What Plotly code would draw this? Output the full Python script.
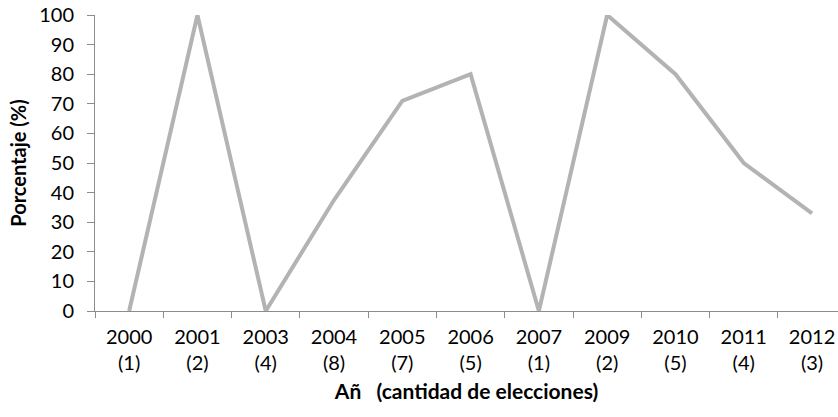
import plotly.graph_objects as go

years = ["2000", "2001", "2003", "2004", "2005", "2006", "2007", "2009", "2010", "2011", "2012"]
counts = [1, 2, 4, 8, 7, 5, 1, 2, 5, 4, 3]
percent = [0, 100, 0, 37.5, 71, 80, 0, 100, 80, 50, 33]

labels = [f"{y}<br>({c})" for y, c in zip(years, counts)]

fig = go.Figure()
fig.add_trace(go.Scatter(
    x=labels, y=percent, mode="lines",
    line=dict(color="#b3b3b3", width=4),
    hoverinfo="x+y",
))

font = "Lato, 'Open Sans', sans-serif"
fig.update_layout(
    width=838, height=417,
    margin=dict(l=95, r=0, t=15, b=106, autoexpand=False),
    plot_bgcolor="white", paper_bgcolor="white",
    showlegend=False,
    font=dict(family=font, color="black", size=20),
)
fig.update_xaxes(
    type="category", range=[-0.5, 10.38],
    showgrid=False, zeroline=False,
    showline=True, linecolor="#8c8c8c", linewidth=1,
    ticks="outside", tickson="boundaries", ticklen=6, tickcolor="#8c8c8c",
    tickfont=dict(size=20), ticklabelstandoff=8,
    title=dict(text="<b>Añ\u00a0\u00a0\u00a0(cantidad de elecciones)</b>", font=dict(size=21), standoff=11),
)
fig.update_yaxes(
    range=[0, 100], dtick=10,
    showgrid=False, zeroline=False,
    showline=True, linecolor="#8c8c8c", linewidth=1,
    ticks="outside", ticklen=7, tickcolor="#8c8c8c",
    tickfont=dict(size=20), ticklabelstandoff=9,
    title=dict(text="<b>Porcentaje (%)</b>", font=dict(size=20), standoff=7),
)

fig.write_html(
    "out.html",
    config={"displayModeBar": False},
    post_script="document.body.style.margin='0';document.body.style.overflow='hidden';",
)
